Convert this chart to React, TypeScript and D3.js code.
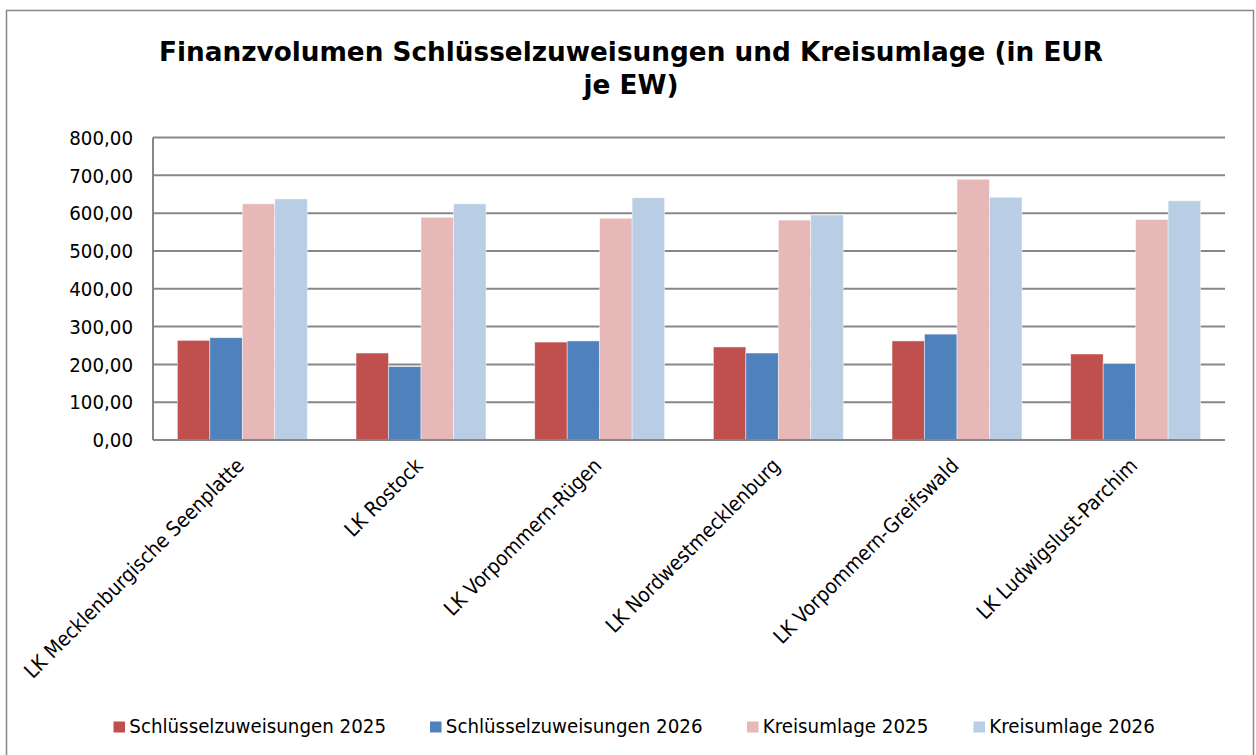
import React from "react";
import { scaleBand, scaleLinear } from "d3";

const districts = [
  "LK Mecklenburgische Seenplatte",
  "LK Rostock",
  "LK Vorpommern-Rügen",
  "LK Nordwestmecklenburg",
  "LK Vorpommern-Greifswald",
  "LK Ludwigslust-Parchim",
];
const seriesNames = [
  "Schlüsselzuweisungen 2025",
  "Schlüsselzuweisungen 2026",
  "Kreisumlage 2025",
  "Kreisumlage 2026",
];
const szw2025 = [263.5, 230, 259, 246, 262, 227.5];
const szw2026 = [270.5, 194, 262, 230, 280, 202];
const ku2025 = [624.5, 589, 586.5, 581.5, 689.5, 583];
const ku2026 = [637.5, 624.5, 640.5, 595, 642, 632.5];
const yTicks = [0, 100, 200, 300, 400, 500, 600, 700, 800];
const colors = ["#C0504D", "#4F81BD", "#E6B9B8", "#B9CDE5"];

const values = [szw2025, szw2026, ku2025, ku2026];
const FONT = "'DejaVu Sans Condensed', 'DejaVu Sans', sans-serif";

const fmt = (v: number) => v.toFixed(2).replace(".", ",");

const App = () => {
  const W = 1256;
  const H = 755;
  const plot = { left: 153, right: 1225, top: 137.5, bottom: 440 };

  const x0 = scaleBand().domain(districts).range([plot.left, plot.right]);
  const x1 = scaleBand()
    .domain(seriesNames)
    .range([0, x0.bandwidth()])
    .paddingOuter(0.75);
  const y = scaleLinear().domain([0, 800]).range([plot.bottom, plot.top]);

  const legendX = [113.5, 430, 747, 973.5];

  return (
    <div style={{ position: "absolute", left: 0, top: 0 }}>
      <svg width={W} height={H} style={{ display: "block" }} fontFamily={FONT}>
        <rect x={0} y={0} width={W} height={H} fill="#fff" />
        <rect x={6.5} y={10.5} width={1247} height={760} fill="none" stroke="#898989" strokeWidth={1.5} />

        {/* title */}
        <g fontFamily="'DejaVu Sans', sans-serif" fontSize={26.3} fontWeight="bold" fill="#000" textAnchor="middle">
          <text x={631} y={61}>Finanzvolumen Schlüsselzuweisungen und Kreisumlage (in EUR</text>
          <text x={631} y={94}>je EW)</text>
        </g>

        {/* grid */}
        {yTicks.map((t) => (
          <g key={t}>
            <line x1={plot.left} x2={plot.right} y1={y(t)} y2={y(t)} stroke="#878787" strokeWidth={2} />
            <text x={133} y={y(t)} dy="0.36em" textAnchor="end" fontSize={20.3} fill="#000">
              {fmt(t)}
            </text>
          </g>
        ))}
        <line x1={plot.left} x2={plot.left} y1={plot.top} y2={plot.bottom} stroke="#878787" strokeWidth={2} />

        {/* bars */}
        {districts.map((d, i) => (
          <g key={d} transform={`translate(${x0(d)},0)`}>
            {seriesNames.map((s, j) => (
              <rect
                key={s}
                x={x1(s)}
                y={y(values[j][i])}
                width={x1.bandwidth()}
                height={y(0) - y(values[j][i])}
                fill={colors[j]}
                stroke="#ffffff"
                strokeOpacity={0.6}
                strokeWidth={0.75}
              />
            ))}
          </g>
        ))}
        <line x1={plot.left} x2={plot.right} y1={plot.bottom} y2={plot.bottom} stroke="#878787" strokeWidth={2} />

        {/* category labels */}
        {districts.map((d) => {
          const cx = (x0(d) ?? 0) + x0.bandwidth() / 2 + 3;
          const cy = 467;
          return (
            <text
              key={d}
              x={cx}
              y={cy}
              textAnchor="end"
              fontSize={20.5}
              fill="#000"
              transform={`rotate(-45,${cx},${cy})`}
            >
              {d}
            </text>
          );
        })}

        {/* legend */}
        {seriesNames.map((s, j) => (
          <g key={s} transform={`translate(${legendX[j]},727)`}>
            <rect x={0} y={-5.5} width={11.5} height={11} fill={colors[j]} />
            <text x={15.8} y={6} fontSize={20.3} fill="#000">
              {s}
            </text>
          </g>
        ))}
      </svg>
    </div>
  );
};

export default App;
